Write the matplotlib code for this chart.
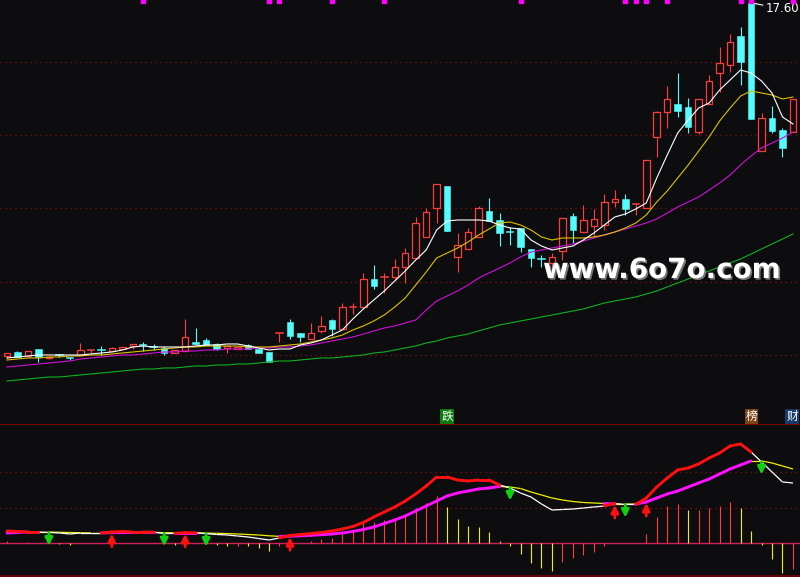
import numpy as np
import matplotlib.pyplot as plt
import matplotlib.patheffects as pe
from matplotlib.collections import LineCollection
from matplotlib.patches import Rectangle

# K线数据
opens = [10.54, 10.62, 10.54, 10.68, 10.50, 10.56, 10.51, 10.56, 10.65, 10.67,
         10.64, 10.68, 10.74, 10.77, 10.73, 10.70, 10.60, 10.64, 10.82, 10.86,
         10.78, 10.70, 10.68, 10.76, 10.68, 10.62, 10.99, 11.22, 11.00, 10.88,
         11.04, 11.26, 11.08, 11.51, 11.52, 12.08, 12.11, 12.12, 12.32, 12.50,
         12.92, 13.50, 13.94, 12.52, 12.68, 12.92, 13.44, 13.26, 13.02, 13.10,
         12.68, 12.49, 12.40, 12.64, 13.34, 13.02, 13.14, 13.16, 13.62, 13.68,
         13.57, 13.50, 14.92, 15.42, 15.58, 15.52, 15.02, 15.58, 16.20, 16.36,
         16.94, 17.60, 14.64, 15.30, 15.06, 15.02]
highs = [10.60, 10.64, 10.64, 10.68, 10.52, 10.58, 10.52, 10.80, 10.66, 10.74,
         10.72, 10.72, 10.78, 10.82, 10.78, 10.74, 10.66, 11.28, 11.10, 10.90,
         10.80, 10.74, 10.72, 10.78, 10.68, 10.62, 11.00, 11.28, 11.00, 11.20,
         11.34, 11.28, 11.60, 11.60, 12.20, 12.36, 12.20, 12.48, 12.70, 13.32,
         13.50, 13.98, 13.94, 13.00, 13.10, 13.54, 13.70, 13.40, 13.12, 13.10,
         12.68, 12.56, 12.60, 13.30, 13.40, 13.56, 13.48, 13.78, 13.86, 13.78,
         13.58, 14.46, 15.44, 15.94, 16.20, 15.70, 15.68, 16.16, 16.72, 16.98,
         17.12, 17.60, 15.40, 15.54, 15.10, 15.68]
lows = [10.50, 10.52, 10.52, 10.42, 10.48, 10.52, 10.46, 10.56, 10.60, 10.56,
        10.64, 10.68, 10.68, 10.64, 10.66, 10.56, 10.60, 10.64, 10.76, 10.76,
        10.66, 10.60, 10.68, 10.68, 10.60, 10.42, 10.82, 10.88, 10.82, 10.88,
        11.00, 10.94, 11.08, 11.38, 11.52, 11.88, 11.80, 12.06, 12.00, 12.50,
        12.92, 13.20, 13.04, 12.22, 12.68, 12.92, 13.24, 12.74, 12.76, 12.62,
        12.32, 12.32, 12.16, 12.46, 12.80, 13.02, 12.92, 13.06, 13.52, 13.36,
        13.36, 13.50, 14.52, 15.10, 15.32, 15.00, 14.98, 15.58, 15.82, 16.22,
        15.96, 15.28, 14.64, 15.00, 14.52, 15.02]
closes = [10.60, 10.52, 10.64, 10.52, 10.52, 10.55, 10.50, 10.66, 10.66, 10.66,
          10.70, 10.72, 10.78, 10.76, 10.72, 10.60, 10.66, 10.92, 10.78, 10.76,
          10.68, 10.74, 10.72, 10.68, 10.60, 10.42, 11.00, 10.94, 10.92, 11.00,
          11.14, 11.08, 11.52, 11.52, 12.08, 11.94, 12.12, 12.32, 12.60, 13.20,
          13.42, 13.98, 13.04, 12.76, 13.02, 13.50, 13.24, 13.00, 13.01, 12.72,
          12.50, 12.48, 12.52, 13.30, 13.06, 13.26, 13.28, 13.62, 13.68, 13.48,
          13.58, 14.46, 15.42, 15.68, 15.44, 15.12, 15.68, 16.04, 16.40, 16.82,
          16.42, 15.28, 15.30, 15.04, 14.70, 15.68]

# 均线
ma5 = [10.50, 10.52, 10.54, 10.56, 10.56, 10.56, 10.56, 10.56, 10.58, 10.60,
       10.62, 10.66, 10.72, 10.74, 10.72, 10.72, 10.72, 10.72, 10.74, 10.76,
       10.76, 10.78, 10.78, 10.74, 10.70, 10.66, 10.68, 10.68, 10.76, 10.80,
       10.86, 10.96, 11.06, 11.28, 11.48, 11.66, 11.84, 12.04, 12.24, 12.46,
       12.66, 13.06, 13.24, 13.26, 13.26, 13.26, 13.24, 13.16, 13.10, 13.08,
       12.86, 12.74, 12.66, 12.70, 12.74, 12.86, 13.00, 13.16, 13.32, 13.38,
       13.48, 13.60, 14.10, 14.56, 15.00, 15.26, 15.50, 15.60, 15.86, 16.06,
       16.26, 16.20, 16.04, 15.80, 15.32, 15.18]
ma10 = [10.46, 10.48, 10.50, 10.50, 10.52, 10.52, 10.54, 10.54, 10.56, 10.56,
        10.58, 10.60, 10.62, 10.64, 10.66, 10.68, 10.70, 10.72, 10.72, 10.74,
        10.74, 10.74, 10.74, 10.72, 10.72, 10.72, 10.74, 10.76, 10.78, 10.82,
        10.86, 10.90, 10.96, 11.06, 11.14, 11.24, 11.36, 11.52, 11.70, 11.96,
        12.22, 12.50, 12.60, 12.70, 12.82, 12.96, 13.08, 13.20, 13.22, 13.16,
        13.06, 12.92, 12.86, 12.90, 12.90, 12.90, 12.92, 12.96, 13.02, 13.10,
        13.20, 13.36, 13.62, 13.84, 14.10, 14.36, 14.64, 14.92, 15.24, 15.50,
        15.74, 15.84, 15.80, 15.76, 15.68, 15.72]
ma20 = [10.32, 10.34, 10.36, 10.38, 10.40, 10.42, 10.44, 10.48, 10.50, 10.52,
        10.54, 10.56, 10.56, 10.58, 10.60, 10.62, 10.62, 10.64, 10.64, 10.66,
        10.66, 10.68, 10.68, 10.68, 10.70, 10.70, 10.72, 10.72, 10.74, 10.76,
        10.80, 10.84, 10.88, 10.92, 10.98, 11.04, 11.10, 11.14, 11.20, 11.26,
        11.46, 11.64, 11.74, 11.84, 11.96, 12.10, 12.20, 12.30, 12.40, 12.52,
        12.62, 12.66, 12.70, 12.74, 12.78, 12.84, 12.90, 12.96, 13.02, 13.08,
        13.14, 13.20, 13.28, 13.40, 13.52, 13.62, 13.72, 13.86, 14.00, 14.16,
        14.36, 14.54, 14.70, 14.80, 14.90, 15.02]
ma60 = [10.04, 10.06, 10.08, 10.10, 10.12, 10.12, 10.14, 10.16, 10.18, 10.20,
        10.22, 10.24, 10.26, 10.28, 10.28, 10.30, 10.30, 10.32, 10.34, 10.34,
        10.36, 10.36, 10.38, 10.38, 10.40, 10.42, 10.44, 10.44, 10.46, 10.48,
        10.50, 10.50, 10.52, 10.54, 10.56, 10.60, 10.62, 10.66, 10.70, 10.74,
        10.80, 10.84, 10.90, 10.94, 10.98, 11.04, 11.10, 11.16, 11.20, 11.24,
        11.28, 11.32, 11.36, 11.40, 11.44, 11.48, 11.54, 11.60, 11.64, 11.68,
        11.72, 11.78, 11.84, 11.92, 12.00, 12.08, 12.16, 12.24, 12.32, 12.40,
        12.48, 12.58, 12.68, 12.78, 12.88, 12.98]

# MACD
dif = [0.120, 0.115, 0.110, 0.110, 0.105, 0.100, 0.090, 0.100, 0.100, 0.100,
       0.110, 0.115, 0.110, 0.110, 0.108, 0.095, 0.095, 0.104, 0.102, 0.093,
       0.085, 0.080, 0.070, 0.060, 0.045, 0.030, 0.050, 0.075, 0.085, 0.095,
       0.105, 0.120, 0.140, 0.165, 0.205, 0.260, 0.310, 0.360, 0.420, 0.490,
       0.570, 0.660, 0.660, 0.630, 0.620, 0.630, 0.630, 0.580, 0.550, 0.500,
       0.460, 0.390, 0.330, 0.335, 0.340, 0.350, 0.360, 0.370, 0.395, 0.385,
       0.385, 0.450, 0.560, 0.650, 0.730, 0.750, 0.790, 0.850, 0.900, 0.970,
       0.990, 0.910, 0.810, 0.710, 0.610, 0.600]
dea = [0.100, 0.105, 0.110, 0.110, 0.110, 0.107, 0.105, 0.102, 0.101, 0.101,
       0.103, 0.104, 0.105, 0.106, 0.106, 0.103, 0.101, 0.101, 0.101, 0.099,
       0.097, 0.094, 0.090, 0.085, 0.080, 0.072, 0.066, 0.068, 0.072, 0.077,
       0.083, 0.090, 0.100, 0.115, 0.135, 0.160, 0.195, 0.230, 0.270, 0.320,
       0.370, 0.420, 0.470, 0.500, 0.520, 0.540, 0.550, 0.565, 0.560, 0.545,
       0.510, 0.480, 0.450, 0.430, 0.415, 0.405, 0.400, 0.395, 0.390, 0.390,
       0.389, 0.410, 0.450, 0.490, 0.520, 0.560, 0.600, 0.640, 0.690, 0.740,
       0.780, 0.820, 0.820, 0.800, 0.770, 0.740]
macd = [0.02, 0.00, 0.01, 0.00, 0.00, -0.01, -0.02, 0.00, 0.00, 0.00,
        0.00, 0.00, 0.00, 0.00, 0.00, 0.00, -0.02, 0.00, 0.00, 0.00,
        -0.02, -0.03, -0.03, -0.035, -0.05, -0.08, -0.03, 0.00, 0.00, 0.02,
        0.04, 0.05, 0.09, 0.11, 0.20, 0.21, 0.23, 0.25, 0.27, 0.35,
        0.40, 0.47, 0.36, 0.24, 0.17, 0.16, 0.11, 0.02, -0.03, -0.11,
        -0.20, -0.25, -0.28, -0.19, -0.15, -0.12, -0.09, -0.03, 0.00, 0.00,
        0.00, 0.09, 0.26, 0.37, 0.39, 0.33, 0.33, 0.35, 0.37, 0.41,
        0.35, 0.12, -0.02, -0.16, -0.30, -0.26]

buy_idx = [10, 17, 27, 58, 61]
sell_idx = [4, 15, 19, 48, 59, 72]
top_marks = [13, 25, 26, 31, 36, 49, 59, 60, 61, 63, 70, 71, 75]

price_grid = [16.42, 14.96, 13.50, 12.02, 10.56]
macd_grid = [0.71, 0.35]

BG = '#0d0d10'
RED = '#ff3c3c'
CYAN = '#54fcfc'
GRID = '#8a0e0e'

n = len(closes)
x = np.arange(n)

fig = plt.figure(figsize=(8, 5.77), dpi=100, facecolor=BG)
ax = fig.add_axes([0, 0.2652, 1, 0.7348])
ax2 = fig.add_axes([0, 0, 1, 0.2652])
for a in (ax, ax2):
    a.set_facecolor(BG)
    a.set_xticks([])
    a.set_yticks([])
    for s in a.spines.values():
        s.set_visible(False)
    a.set_xlim(-0.668, 75.67)

ax.set_ylim(9.18, 17.66)
ax2.set_ylim(-0.34, 1.19)

for g in price_grid:
    ax.axhline(g, color=GRID, lw=0.9, ls=(0, (1, 3)))
for g in macd_grid:
    ax2.axhline(g, color=GRID, lw=0.9, ls=(0, (1, 3)))

# 画K线
w = 0.62
for i in range(n):
    o, h, l, c = opens[i], highs[i], lows[i], closes[i]
    up = c >= o
    col = RED if up else CYAN
    top, bot = max(o, c), min(o, c)
    if top - bot < 0.015:
        ax.plot([i - w / 2, i + w / 2], [c, c], color=col, lw=1.1, zorder=3)
        ax.vlines(i, l, h, color=col, lw=0.8, zorder=3)
    elif up:
        ax.add_patch(Rectangle((i - w / 2, bot), w, top - bot, fill=True,
                               facecolor=BG, edgecolor=col, lw=0.9, zorder=3))
        ax.vlines(i, top, h, color=col, lw=0.8, zorder=3)
        ax.vlines(i, l, bot, color=col, lw=0.8, zorder=3)
    else:
        ax.vlines(i, l, h, color=col, lw=0.8, zorder=2)
        ax.add_patch(Rectangle((i - w / 2, bot), w, top - bot,
                               facecolor=col, edgecolor=col, lw=0.4, zorder=3))

ax.plot(x, ma60, color='#10b020', lw=0.8, zorder=4)
ax.plot(x, ma20, color='#d010d8', lw=0.8, zorder=4)
ax.plot(x, ma10, color='#dcc000', lw=0.8, zorder=4)
ax.plot(x, ma5, color='white', lw=0.8, zorder=4)

# 顶部标记
ax.plot(top_marks, [17.63] * len(top_marks), ls='none', marker='s',
        ms=2.4, color='#ff00ff', clip_on=False, zorder=5)

ax.annotate('17.60', xy=(71.1, highs[71]), xytext=(72.4, 17.48),
            color='white', fontsize=8.5, va='center', ha='left',
            arrowprops=dict(arrowstyle='-', color='white', lw=0.8,
                            shrinkA=0, shrinkB=0))

# 水印
fig.text(543 / 800, 1 - 278 / 577, 'www.6o7o.com', color='white',
         fontsize=20, fontweight='bold', va='baseline', ha='left',
         path_effects=[pe.withSimplePatchShadow(offset=(1.2, -1.2),
                                                shadow_rgbFace='#777777', alpha=1)])

# MACD 副图
ax2.axhline(0, color='#d0205a', lw=1)
ax2.axhline(1.19, color='#7a0000', lw=1.5)
ax2.axhline(-0.33, color='#7a0000', lw=1.2)

bar_cols = []
prev = 0.0
for v in macd:
    bar_cols.append(RED if v >= prev else '#f0f000')
    prev = v
for i, v in enumerate(macd):
    if v != 0:
        ax2.vlines(i, 0, v, color=bar_cols[i], lw=0.8)

thin_d, thin_e, thick_d, thick_e = [], [], [], []
for i in range(1, n):
    sd = [(i - 1, dif[i - 1]), (i, dif[i])]
    se = [(i - 1, dea[i - 1]), (i, dea[i])]
    if dif[i] >= dea[i]:
        thick_d.append(sd)
        thick_e.append(se)
    else:
        thin_d.append(sd)
        thin_e.append(se)
ax2.add_collection(LineCollection(thin_e, colors='#f0f000', lw=0.9))
ax2.add_collection(LineCollection(thin_d, colors='white', lw=0.9))
ax2.add_collection(LineCollection(thick_e, colors='#ff10ff', lw=2.1, capstyle='round'))
ax2.add_collection(LineCollection(thick_d, colors='#ff1010', lw=2.1, capstyle='round'))

for i in sell_idx:
    ax2.annotate('', xy=(i, dea[i] - 0.135), xytext=(i, dea[i] - 0.005),
                 arrowprops=dict(arrowstyle='-|>', color='#10d010', lw=2.0,
                                 mutation_scale=11, shrinkA=0, shrinkB=0))
for i in buy_idx:
    ax2.annotate('', xy=(i, dea[i] - 0.01), xytext=(i, dea[i] - 0.14),
                 arrowprops=dict(arrowstyle='-|>', color='#ff1010', lw=2.0,
                                 mutation_scale=11, shrinkA=0, shrinkB=0))

# 标签
tags = [('跌', 447, '#0c7a0c'), ('榜', 751.5, '#7a4414'), ('财', 792, '#153a6a')]
for t, px, bg in tags:
    fig.text(px / 800, 1 - 416.5 / 577, t, color='white', fontsize=8.5,
             family=['Noto Sans CJK SC', 'DejaVu Sans'], ha='center', va='center',
             bbox=dict(boxstyle='square,pad=0.08', fc=bg, ec='none'))

fig.savefig('out.png', dpi=100, facecolor=BG)
